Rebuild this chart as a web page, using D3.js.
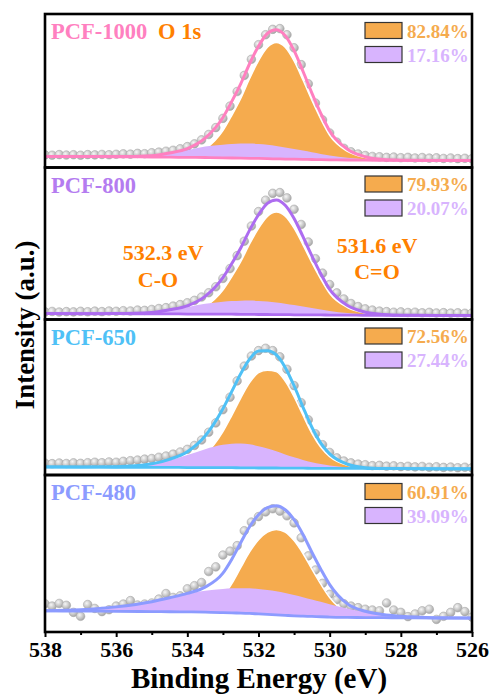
<!DOCTYPE html>
<html>
<head>
<meta charset="utf-8">
<script src="https://cdn.jsdelivr.net/npm/d3@7"></script>
<style>
body { margin:0; background:#fff; }
svg { display:block; font-family:"Times New Roman","Liberation Serif",serif; font-weight:bold; }
</style>
</head>
<body>
<div id="chart"></div>
<script>
// binding energy grid of the fitted curves (eV)
var fitEnergy = [538,537,536,535,534.5,534,533.5,533,532.75,532.5,532.25,532,531.75,531.5,531.25,531,530.75,530.5,530.25,530,529.5,529,528.5,528,527,526];

// binding energy of the measured points (eV)
var scanEnergy = [538.0,537.8,537.6,537.4,537.2,537.0,536.8,536.6,536.4,536.2,
                  536.0,535.8,535.6,535.4,535.2,535.0,534.8,534.6,534.4,534.2,
                  534.0,533.8,533.6,533.4,533.2,533.0,532.8,532.6,532.4,532.2,
                  532.0,531.8,531.6,531.4,531.2,531.0,530.8,530.6,530.4,530.2,
                  530.0,529.8,529.6,529.4,529.2,529.0,528.8,528.6,528.4,528.2,
                  528.0,527.8,527.6,527.4,527.2,527.0,526.8,526.6,526.4,526.2,
                  526.0];

var sampleNames = ['PCF-1000','PCF-800','PCF-650','PCF-480'];
var doubleBondShare = ['82.84%','79.93%','72.56%','60.91%'];   // C=O
var singleBondShare = ['17.16%','20.07%','27.44%','39.09%'];   // C-O

// intensities, 0..100 of each panel height
var base1   = [7.2,7.1,7.0,6.8,6.7,6.6,6.5,6.3,6.2,6.1,6.0,5.9,5.8,5.6,5.5,5.4,5.3,5.2,5.1,5.0,4.9,4.8,4.7,4.7,4.6,4.5];
var orange1 = [7.2,7.1,7.0,6.9,7.0,7.6,12.0,24.0,34.0,45.0,58.0,69.6,78.3,81.4,78.3,69.4,57.0,43.8,31.6,21.0,10.5,6.5,5.0,4.8,4.6,4.5];
var purple1 = [7.2,7.1,7.1,7.6,9.2,11.3,13.6,14.9,15.3,15.6,15.6,15.3,14.8,14.0,13.1,12.1,11.0,9.9,8.8,7.8,6.3,5.3,4.9,4.7,4.6,4.5];
var fit1    = [7.2,7.1,7.1,7.7,9.5,12.3,19.1,32.6,43.1,54.5,67.6,79.0,87.3,89.8,85.9,76.1,62.7,48.5,35.3,23.8,11.9,7.0,5.2,4.8,4.6,4.5];
var scan1   = [8.2,8.0,8.4,8.1,8.3,8.0,8.4,8.2,8.5,8.3,
               8.6,8.9,8.7,9.2,9.0,9.6,10.0,10.6,11.2,12.2,
               13.6,15.4,18.0,21.5,26.0,32.0,40.0,49.5,60.0,70.5,
               80.0,86.5,90.0,90.5,86.5,78.0,67.0,54.5,42.0,31.0,
               22.5,16.5,12.5,10.2,8.8,7.8,7.2,7.0,6.6,6.8,
               6.4,6.6,6.2,6.5,6.1,6.3,5.9,6.2,5.8,6.0,
               5.7];

var base2   = [3.9,3.8,3.8,3.7,3.7,3.6,3.6,3.5,3.5,3.4,3.4,3.3,3.3,3.2,3.2,3.1,3.1,3.0,3.0,2.9,2.9,2.8,2.8,2.7,2.7,2.6];
var orange2 = [3.9,3.8,3.8,3.8,4.0,4.5,8.5,19.3,28.2,38.0,49.7,60.0,67.8,70.7,68.0,60.1,49.1,37.4,26.6,17.1,7.9,4.3,3.1,2.8,2.7,2.6];
var purple2 = [3.9,3.8,3.9,4.5,6.1,8.1,10.3,11.7,12.1,12.4,12.5,12.2,11.9,11.2,10.4,9.5,8.5,7.5,6.5,5.6,4.2,3.3,3.0,2.7,2.7,2.6];
var fit2    = [3.9,3.8,3.9,4.6,6.4,9.0,15.2,27.5,36.8,47.0,58.8,68.9,76.4,78.7,75.2,66.5,54.5,41.9,30.1,19.8,9.2,4.8,3.3,2.8,2.7,2.6];
var scan2   = [5.0,5.3,4.9,5.2,5.0,5.4,5.1,5.5,5.2,5.6,
               5.4,5.8,5.6,6.2,6.0,6.6,7.2,7.8,8.8,9.8,
               11.0,12.6,14.8,17.6,21.5,27.0,33.5,42.0,51.5,61.5,
               71.0,78.5,83.0,83.5,80.0,72.5,62.5,51.0,40.0,30.5,
               23.0,17.5,13.5,10.5,8.5,7.0,6.2,5.5,5.2,4.8,
               5.0,4.6,4.8,4.4,4.7,4.3,4.5,4.2,4.4,4.1,
               4.3];

var base3   = [5.2,5.1,5.0,4.9,4.9,4.8,4.8,4.7,4.7,4.6,4.6,4.5,4.5,4.5,4.4,4.4,4.4,4.3,4.3,4.3,4.2,4.2,4.1,4.1,4.0,4.0];
var orange3 = [5.2,5.1,5.0,4.9,5.5,7.0,13.3,27.9,38.4,49.5,59.4,65.8,67.4,66.5,60.4,50.4,38.4,26.8,17.8,11.8,6.2,4.5,4.2,4.1,4.0,4.0];
var purple3 = [5.2,5.1,5.3,7.2,9.5,12.8,16.6,19.4,20.1,20.2,19.7,18.5,17.0,15.2,13.2,11.4,9.7,8.2,7.0,6.1,4.9,4.4,4.2,4.1,4.0,4.0];
var fit3    = [5.2,5.1,5.3,7.2,10.1,15.0,25.1,42.6,53.8,65.1,74.5,79.8,79.9,77.2,69.2,57.4,43.7,30.7,20.5,13.6,6.9,4.7,4.2,4.1,4.0,4.0];
var scan3   = [7.6,7.3,7.7,7.4,7.8,7.5,7.9,8.2,7.9,8.4,
               8.2,8.8,9.2,9.6,10.2,10.6,11.4,12.2,13.4,14.8,
               16.5,19.0,22.5,27.5,33.5,42.0,50.0,60.5,70.0,76.5,
               80.0,81.5,80.0,76.0,68.0,57.5,46.5,35.5,26.5,19.5,
               14.5,11.0,9.0,7.8,7.0,6.6,6.0,6.2,5.7,5.9,
               5.4,5.6,5.2,5.5,5.0,5.3,4.9,5.1,4.7,5.0,
               4.6];

var base4   = [13.4,13.3,13.2,13.0,12.9,12.8,12.6,12.4,12.2,12.0,11.8,11.5,11.2,10.9,10.6,10.3,10.1,9.9,9.7,9.5,9.3,9.2,9.1,9.0,8.9,8.9];
var orange4 = [13.4,13.3,13.2,13.0,12.9,13.1,15.0,22.5,30.8,41.0,51.0,58.8,63.6,65.3,63.6,58.2,50.0,40.0,30.5,22.0,12.3,9.8,9.2,9.0,8.9,8.9];
var purple4 = [13.6,14.2,16.0,19.3,21.8,24.3,26.2,27.4,27.8,27.9,27.8,27.4,26.8,26.0,24.9,23.6,22.2,20.7,19.2,17.7,14.9,12.6,11.0,10.0,9.1,8.9];
var fit4    = [13.6,14.2,16.0,19.3,21.8,24.6,28.6,37.5,46.4,56.9,67.0,74.7,79.2,80.4,77.9,71.5,62.1,50.8,40.0,30.2,17.9,13.2,11.1,10.0,9.1,8.9];
var scan4   = [18.0,16.5,18.2,17.0,12.5,10.0,17.5,15.0,13.0,14.2,
               16.5,17.8,20.0,17.2,17.8,18.5,21.0,24.5,22.0,23.0,
               27.5,29.5,31.5,38.5,41.5,49.0,51.5,55.0,64.5,70.0,
               73.5,76.5,78.5,77.0,74.0,69.5,60.0,48.5,39.5,31.0,
               24.0,20.5,18.0,16.5,15.5,14.5,14.0,13.5,18.5,14.0,
               12.5,9.8,11.5,13.5,14.5,8.0,10.0,12.5,15.5,13.0,
               9.5];

var lineColors = ['#ff80c0','#ad6cf0','#4fc1f6','#8c9bff'];
var nameColors = ['#ff80c0','#b47cf0','#4fc1f6','#8c9bff'];
var orangeFill = '#f5ab4e', purpleFill = '#d8b4fe', labelOrange = '#ff8000';

var panels = [
    {base:base1, orange:orange1, purple:purple1, fit:fit1, scan:scan1},
    {base:base2, orange:orange2, purple:purple2, fit:fit2, scan:scan2},
    {base:base3, orange:orange3, purple:purple3, fit:fit3, scan:scan3},
    {base:base4, orange:orange4, purple:purple4, fit:fit4, scan:scan4}
];

var W = 493, H = 695;
var left = 45, right = 472;
var edges = [14, 167.5, 319.5, 475, 632];

var svg = d3.select('#chart').append('svg').attr('width', W).attr('height', H);
var defs = svg.append('defs');

var grad = defs.append('radialGradient').attr('id','ball')
    .attr('cx','38%').attr('cy','35%').attr('r','65%');
grad.append('stop').attr('offset','0%').attr('stop-color','#f6f6f6');
grad.append('stop').attr('offset','60%').attr('stop-color','#c8c8c8');
grad.append('stop').attr('offset','100%').attr('stop-color','#a6a6a6');

var x = d3.scaleLinear().domain([538, 526]).range([left, right]);
var idx = d3.range(fitEnergy.length);

panels.forEach(function(p, i) {
    var top = edges[i], bot = edges[i+1];
    var y = d3.scaleLinear().domain([0, 100]).range([bot, top]);
    var color = lineColors[i];

    defs.append('clipPath').attr('id', 'clip' + i)
        .append('rect')
        .attr('x', left).attr('y', top)
        .attr('width', right - left).attr('height', bot - top);

    var pg = svg.append('g').attr('clip-path', 'url(#clip' + i + ')');

    // measured points
    pg.selectAll('circle').data(scanEnergy).enter().append('circle')
        .attr('cx', function(d) { return x(d); })
        .attr('cy', function(d, j) { return y(p.scan[j]); })
        .attr('r', 4.3)
        .attr('fill', 'url(#ball)')
        .attr('stroke', '#aaaaaa')
        .attr('stroke-width', 0.6);

    function area(arr) {
        return d3.area()
            .x(function(j) { return x(fitEnergy[j]); })
            .y0(function(j) { return y(p.base[j]); })
            .y1(function(j) { return y(arr[j]); })
            .curve(d3.curveMonotoneX);
    }
    function line(arr) {
        return d3.line()
            .x(function(j) { return x(fitEnergy[j]); })
            .y(function(j) { return y(arr[j]); })
            .curve(d3.curveMonotoneX);
    }

    pg.append('path').datum(idx).attr('d', area(p.orange))
        .attr('fill', orangeFill).attr('stroke', '#fff').attr('stroke-width', 1.5);
    pg.append('path').datum(idx).attr('d', area(p.purple))
        .attr('fill', purpleFill);
    pg.append('path').datum(idx).attr('d', line(p.base))
        .attr('fill', 'none').attr('stroke', color).attr('stroke-width', 2.8);
    pg.append('path').datum(idx).attr('d', line(p.fit))
        .attr('fill', 'none').attr('stroke', color).attr('stroke-width', 3);

    svg.append('rect')
        .attr('x', left).attr('y', top)
        .attr('width', right - left).attr('height', bot - top)
        .attr('fill', 'none').attr('stroke', '#000').attr('stroke-width', 2.6);

    // sample name
    svg.append('text').attr('x', 51).attr('y', top + 25)
        .attr('font-size', 22.5).attr('fill', nameColors[i])
        .text(sampleNames[i]);

    // legend
    var lg = [[orangeFill, doubleBondShare[i], top + 8.5], [purpleFill, singleBondShare[i], top + 32.5]];
    lg.forEach(function(l) {
        svg.append('rect').attr('x', 365).attr('y', l[2])
            .attr('width', 37).attr('height', 16)
            .attr('fill', l[0]).attr('stroke', '#333').attr('stroke-width', 1.2);
        svg.append('text').attr('x', 407).attr('y', l[2] + 15)
            .attr('font-size', 19).attr('fill', l[0])
            .text(l[1]);
    });
});

svg.append('text').attr('x', 158).attr('y', edges[0] + 25)
    .attr('font-size', 22.5).attr('fill', labelOrange).text('O 1s');

// peak annotations in PCF-800 panel
var notes = [['532.3 eV', 163, 260], ['C-O', 158, 287], ['531.6 eV', 377, 253], ['C=O', 377, 279]];
notes.forEach(function(n) {
    svg.append('text').attr('x', n[1]).attr('y', n[2])
        .attr('text-anchor', 'middle').attr('font-size', 22)
        .attr('fill', labelOrange).text(n[0]);
});

// bottom axis
var ax = svg.append('g').attr('transform', 'translate(0,' + edges[4] + ')');
ax.call(d3.axisBottom(x).tickValues([538,536,534,532,530,528,526])
    .tickSize(5).tickFormat(d3.format('d')));
ax.call(function(g) { g.select('.domain').remove(); });
ax.selectAll('line').attr('stroke', '#000').attr('stroke-width', 2);
ax.selectAll('text').attr('y', 9).attr('font-size', 22)
    .attr('font-family', '"Times New Roman","Liberation Serif",serif')
    .attr('font-weight', 'bold').attr('fill', '#000');

var mx = svg.append('g').attr('transform', 'translate(0,' + edges[4] + ')');
mx.call(d3.axisBottom(x).tickValues([537,535,533,531,529,527]).tickSize(3).tickFormat(''));
mx.call(function(g) { g.select('.domain').remove(); });
mx.selectAll('line').attr('stroke', '#000').attr('stroke-width', 2);

svg.append('text').attr('x', 259).attr('y', 688)
    .attr('text-anchor', 'middle').attr('font-size', 29)
    .text('Binding Energy (eV)');

svg.append('text')
    .attr('transform', 'translate(34,325) rotate(-90)')
    .attr('text-anchor', 'middle').attr('font-size', 27)
    .text('Intensity (a.u.)');
</script>
</body>
</html>
